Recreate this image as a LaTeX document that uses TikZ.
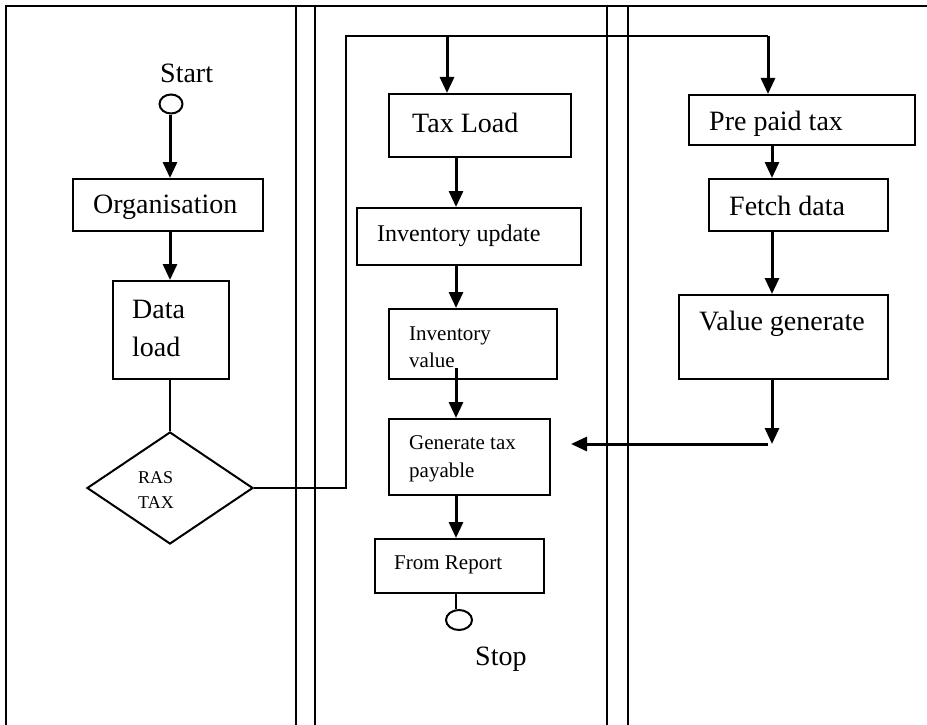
\documentclass[tikz,border=0pt]{standalone}
\usepackage{fontspec}
\setmainfont{Liberation Serif}
\usetikzlibrary{arrows.meta,shapes.geometric}

\newcommand{\fbig}{\fontsize{28}{33}\selectfont}
\newcommand{\fmid}{\fontsize{24}{28}\selectfont}
\newcommand{\fsmall}{\fontsize{21}{25}\selectfont}
\newcommand{\ftiny}{\fontsize{18}{21}\selectfont}

\tikzset{
  frame/.style={line width=2pt},
  stepbox/.style={draw, line width=2pt, rectangle, inner sep=0pt, anchor=north west},
  term/.style={draw, line width=2pt, ellipse, inner sep=0pt},
  txt/.style={anchor=base west, inner sep=0pt},
  flow/.style={line width=3pt, -{Triangle[length=16pt,width=14pt]}},
  plain/.style={line width=2pt},
}

\begin{document}
\begin{tikzpicture}[x=1pt,y=-1pt]
\useasboundingbox (0,0) rectangle (927,725);

% frame and lane dividers
\draw[frame] (6,725) -- (6,6) -- (927,6);
\foreach \lx in {296,315,607,628} \draw[frame] (\lx,6) -- (\lx,725);

% left lane
\node[txt] (startlbl) at (160,83) {\fbig Start};
\node[term, minimum width=23pt, minimum height=19pt] (start) at (171,104) {};
\node[stepbox, minimum width=190pt, minimum height=52pt] (org) at (72,178) {};
\node[txt] (orgtxt) at (93,213) {\fbig Organisation};
\node[stepbox, minimum width=116pt, minimum height=98pt] (data) at (112,280) {};
\node[txt] (datatxt1) at (132,318) {\fbig Data};
\node[txt] (datatxt2) at (132,356) {\fbig load};
\node[draw, line width=2pt, diamond, inner sep=0pt, minimum width=166pt, minimum height=112pt, aspect=1.48] (ras) at (170,488) {};
\node[txt] (rastxt1) at (138,483) {\ftiny RAS};
\node[txt] (rastxt2) at (138,508) {\ftiny TAX};

% middle lane
\node[stepbox, minimum width=182pt, minimum height=63pt] (taxload) at (388,93) {};
\node[txt] (taxloadtxt) at (412,132) {\fbig Tax Load};
\node[stepbox, minimum width=224pt, minimum height=57pt] (invupd) at (356,207) {};
\node[txt] (invupdtxt) at (377,241) {\fmid Inventory update};
\node[stepbox, minimum width=168pt, minimum height=70pt] (invval) at (388,308) {};
\node[txt] (invvaltxt1) at (409,340) {\fsmall Inventory};
\node[txt] (invvaltxt2) at (409,367) {\fsmall value};
\node[stepbox, minimum width=161pt, minimum height=76pt] (gentax) at (388,418) {};
\node[txt] (gentaxtxt1) at (409,449) {\fsmall Generate tax};
\node[txt] (gentaxtxt2) at (409,477) {\fsmall payable};
\node[stepbox, minimum width=169pt, minimum height=54pt] (report) at (374,538) {};
\node[txt] (reporttxt) at (394,569) {\fsmall From Report};
\node[term, minimum width=26pt, minimum height=20pt] (stop) at (459,620) {};
\node[txt] (stoplbl) at (475,665) {\fbig Stop};

% right lane
\node[stepbox, minimum width=226pt, minimum height=50pt] (prepaid) at (688,94) {};
\node[txt] (prepaidtxt) at (709,130) {\fbig Pre paid tax};
\node[stepbox, minimum width=179pt, minimum height=52pt] (fetch) at (708,178) {};
\node[txt] (fetchtxt) at (729,215) {\fbig Fetch data};
\node[stepbox, minimum width=209pt, minimum height=84pt] (valgen) at (678,294) {};
\node[txt] (valgentxt) at (699,330) {\fbig Value generate};

% routing points
\coordinate (lx) at (170,0);
\coordinate (mx) at (456,0);
\coordinate (rx) at (772,0);
\coordinate (bendlow) at (346,488);
\coordinate (bendhigh) at (346,36);
\coordinate (split) at (447,36);
\coordinate (toppre) at (768,36);
\coordinate (invtail) at (456,368);
\coordinate (valtip) at (772,444);
\coordinate (joinstart) at (768,444);
\coordinate (jointip) at (571,444);

% left lane connectors
\draw[flow] (start.south -| lx) -- (org.north -| lx);
\draw[flow] (org.south -| lx) -- (data.north -| lx);
\draw[plain] (data.south -| lx) -- (ras.north -| lx);

% branch from the decision to the other lanes
\draw[plain] (ras.east) -- (bendlow) -- (bendhigh) -- (toppre);
\draw[flow] (toppre) -- (prepaid.north -| toppre);
\draw[flow] (split) -- (taxload.north -| split);

% middle lane connectors
\draw[flow] (taxload.south -| mx) -- (invupd.north -| mx);
\draw[flow] (invupd.south -| mx) -- (invval.north -| mx);
\draw[flow] (invtail) -- (gentax.north -| mx);
\draw[flow] (gentax.south -| mx) -- (report.north -| mx);
\draw[plain] (report.south -| mx) -- (stop.north -| mx);

% right lane connectors
\draw[flow] (prepaid.south -| rx) -- (fetch.north -| rx);
\draw[flow] (fetch.south -| rx) -- (valgen.north -| rx);
\draw[flow] (valgen.south -| rx) -- (valtip);
\draw[flow] (joinstart) -- (jointip);
\end{tikzpicture}
\end{document}
